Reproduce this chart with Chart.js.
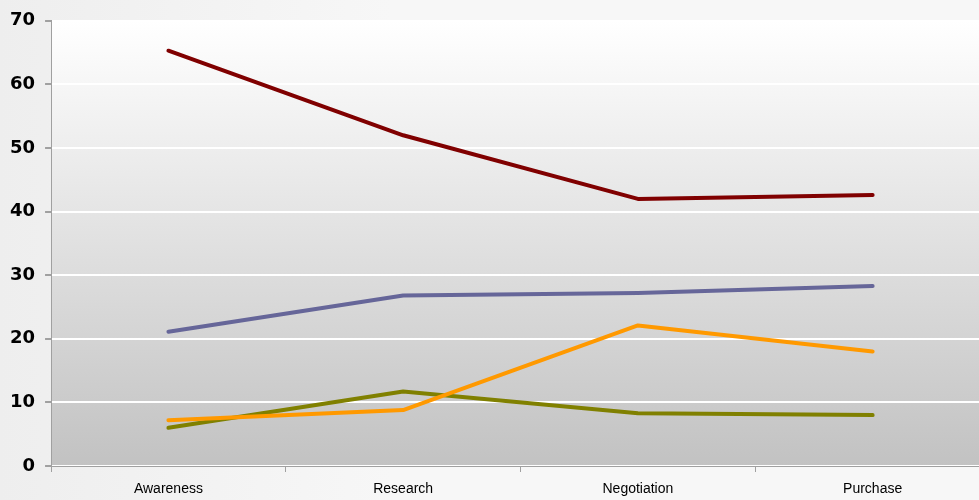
<!DOCTYPE html>
<html>
<head>
<meta charset="utf-8">
<script src="https://cdn.jsdelivr.net/npm/chart.js@4/dist/chart.umd.min.js"></script>
<style>
  html, body { margin:0; padding:0; overflow:hidden; }
  body { width:979px; height:500px; background:linear-gradient(90deg,#eeeeee,#f7f7f7 40%,#f7f7f7); }
  #wrap { position:absolute; left:0; top:0; width:992px; height:500px; }
</style>
</head>
<body>
<div id="wrap"><canvas id="chart" width="992" height="500"></canvas></div>
<script>
const stages = ["Awareness","Research","Negotiation","Purchase"];
const seriesRed = [65.3, 52.0, 42.0, 42.6];
const seriesPurple = [21.1, 26.8, 27.2, 28.3];
const seriesOrange = [7.2, 8.8, 22.1, 18.0];
const seriesOlive = [6.0, 11.7, 8.3, 8.0];
const yTicks = [0,10,20,30,40,50,60,70];

// gradient fill behind the plot area
const plotBg = {
  id:"plotBg",
  beforeDraw(chart){
    const {ctx, chartArea:a} = chart;
    const g = ctx.createLinearGradient(0,a.top,0,a.bottom);
    g.addColorStop(0,"#ffffff");
    g.addColorStop(1,"#c2c2c2");
    ctx.save();
    ctx.fillStyle = g;
    ctx.fillRect(a.left,a.top,a.right-a.left,a.bottom-a.top);
    ctx.restore();
  }
};

function line(data,color){
  return { data, borderColor:color, backgroundColor:color, borderWidth:4,
    pointRadius:0, tension:0, borderCapStyle:"round", borderJoinStyle:"round" };
}

new Chart(document.getElementById("chart"),{
  type:"line",
  data:{
    labels:stages,
    datasets:[
      line(seriesRed,"#800000"),
      line(seriesPurple,"#666699"),
      line(seriesOrange,"#ff9900"),
      line(seriesOlive,"#808000")
    ]
  },
  plugins:[plotBg],
  options:{
    responsive:false,
    animation:false,
    layout:{ padding:{ top:10, right:2, left:0, bottom:0 } },
    plugins:{ legend:{display:false}, tooltip:{enabled:false} },
    scales:{
      x:{
        offset:true,
        afterFit(ax){ ax.height = 34; },
        grid:{ offset:true, drawOnChartArea:false, tickLength:6, tickColor:"#a0a0a0" },
        border:{ color:"#a0a0a0", width:1 },
        ticks:{ color:"#000", padding:9, maxRotation:0, font:{ family:"'Liberation Sans Narrow','Liberation Sans',Arial", size:14 } }
      },
      y:{
        min:0, max:70,
        afterBuildTicks(ax){ ax.ticks = yTicks.map(v=>({value:v})); },
        grid:{ color:"#ffffff", lineWidth:2, tickLength:6, tickColor:"#a0a0a0" },
        border:{ color:"#a0a0a0", width:1 },
        ticks:{ color:"#000", padding:10, font:{ family:"'DejaVu Sans',Verdana", size:18, weight:"bold" } }
      }
    }
  }
});
</script>
</body>
</html>
